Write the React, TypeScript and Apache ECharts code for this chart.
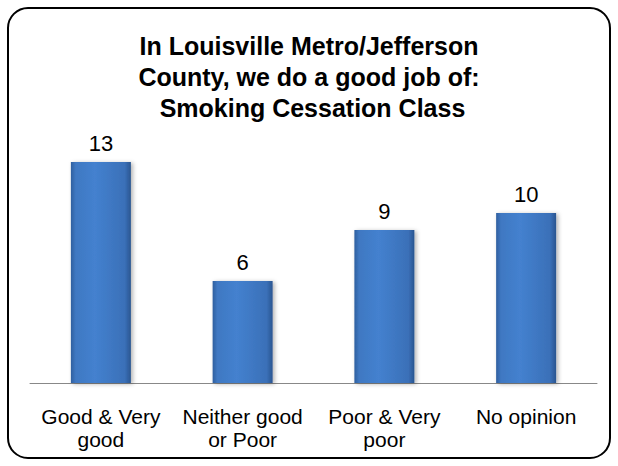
import React, { useEffect, useRef } from "react";
import * as echarts from "echarts";

const titleLines = [
  "In Louisville Metro/Jefferson",
  "County, we do a good job of:",
  " Smoking Cessation Class",
];
const categories = ["Good & Very\ngood", "Neither good\nor Poor", "Poor & Very\npoor", "No opinion"];
const values = [13, 6, 9, 10];

export default function App() {
  const ref = useRef<HTMLDivElement>(null);
  useEffect(() => {
    if (!ref.current) return;
    const chart = echarts.init(ref.current, null, { renderer: "svg" });
    const font = "'Liberation Sans', Arial, sans-serif";
    chart.setOption({
      animation: false,
      backgroundColor: "#ffffff",
      title: {
        text: titleLines.join("\n"),
        left: "center",
        top: 25,
        textStyle: {
          fontFamily: font,
          fontSize: 25,
          fontWeight: "bold",
          color: "#000000",
          lineHeight: 31,
        },
      },
      graphic: [
        {
          type: "rect",
          shape: { x: 8, y: 8, width: 602, height: 450, r: 20 },
          style: { fill: "none", stroke: "#000000", lineWidth: 2 },
          z: 100,
        },
      ],
      grid: { left: 30, right: 21, top: 145, bottom: 83 },
      xAxis: {
        type: "category",
        data: categories,
        axisLine: { lineStyle: { color: "#888888", width: 1 } },
        axisTick: { show: false },
        axisLabel: {
          fontFamily: font,
          fontSize: 21,
          color: "#000000",
          lineHeight: 23,
          margin: 22,
          interval: 0,
        },
      },
      yAxis: {
        type: "value",
        min: 0,
        max: 14,
        show: false,
        splitLine: { show: false },
      },
      series: [
        {
          type: "bar",
          data: values,
          barWidth: 60,
          label: {
            show: true,
            position: "top",
            distance: 8,
            fontFamily: font,
            fontSize: 22,
            color: "#000000",
          },
          itemStyle: {
            color: new echarts.graphic.LinearGradient(0, 0, 1, 0, [
              { offset: 0, color: "#2f5f9f" },
              { offset: 0.08, color: "#3f78c2" },
              { offset: 0.4, color: "#4481cf" },
              { offset: 0.9, color: "#3a70b8" },
              { offset: 1, color: "#2a5590" },
            ]),
            shadowColor: "rgba(0,0,0,0.3)",
            shadowBlur: 4,
            shadowOffsetX: 2,
            shadowOffsetY: 1,
          },
        },
      ],
    });
    return () => chart.dispose();
  }, []);
  return (
    <div
      ref={ref}
      style={{ position: "fixed", left: 0, top: 0, width: 618, height: 466 }}
    />
  );
}
